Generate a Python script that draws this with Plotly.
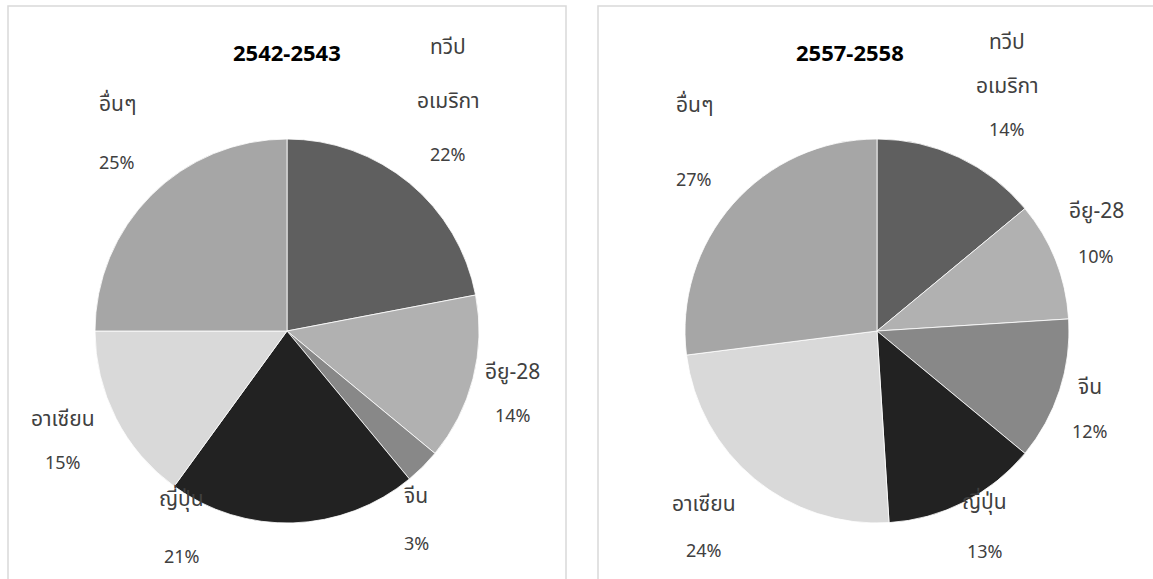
import math
import plotly.graph_objects as go

# Export shares by destination, two periods
regions = ["ทวีป<br>อเมริกา", "อียู-28", "จีน", "ญี่ปุ่น", "อาเซียน", "อื่นๆ"]
share_2542 = [22, 14, 3, 21, 15, 25]
share_2557 = [14, 10, 12, 13, 24, 27]
titles = ["2542-2543", "2557-2558"]

colors = ["#5f5f5f", "#b1b1b1", "#888888", "#222222", "#d9d9d9", "#a6a6a6"]

W, H = 1153, 579
R = 192                      # pie radius in px
centers = [(287, 331), (877, 331)]
panels = [(8, 566), (598, 1156)]

# label placement: angle nudge (deg), distance (in radii) and line gap (px) per slice
label_nudge = [
    [-4.7, 1.0, 10.5, 30.0, 1.0, 4.5],
    [2.7, -2.4, 2.0, -2.0, 2.0, 4.6],
]
label_dist = [
    [1.47, 1.22, 1.19, 1.16, 1.30, 1.36],
    [1.45, 1.25, 1.18, 1.16, 1.36, 1.37],
]
line_gaps = [
    [54, 44, 48, 58, 44, 59],
    [44, 46, 45, 50, 47, 75],
]
name_font = dict(family="Noto Sans, Noto Sans Thai, sans-serif", size=21, color="#404040")
pct_font = dict(family="Noto Sans, sans-serif", size=18, color="#404040")

fig = go.Figure()
annotations = []
shapes = []

for k, values in enumerate([share_2542, share_2557]):
    cx, cy = centers[k]
    fig.add_trace(go.Pie(
        labels=[r.replace("<br>", " ") for r in regions],
        values=values,
        sort=False,
        direction="clockwise",
        rotation=0,
        textinfo="none",
        hoverinfo="label+percent",
        marker=dict(colors=colors, line=dict(color="white", width=0.8)),
        domain=dict(x=[(cx - R) / W, (cx + R) / W],
                    y=[1 - (cy + R) / H, 1 - (cy - R) / H]),
        showlegend=False,
    ))
    # panel frame
    x0, x1 = panels[k]
    shapes.append(dict(type="rect", xref="paper", yref="paper",
                       x0=x0 / W, x1=x1 / W, y0=-0.1, y1=1 - 6 / H,
                       line=dict(color="#d9d9d9", width=1.5)))
    # title
    tx = cx if k == 0 else cx - 27
    annotations.append(dict(text=f"<b>{titles[k]}</b>", x=tx / W, y=1 - 52 / H,
                            xref="paper", yref="paper", showarrow=False,
                            xanchor="center", yanchor="middle",
                            font=dict(family="Noto Sans, sans-serif", size=22, color="#000000")))
    # outside labels, placed around each slice's mid-angle
    total = sum(values)
    cum = 0
    for i, v in enumerate(values):
        mid = (cum + v / 2) / total * 360
        cum += v
        theta = math.radians(mid + label_nudge[k][i])
        d = label_dist[k][i] * R
        lx = cx + d * math.sin(theta)
        ly = cy - d * math.cos(theta)
        names = regions[i].split("<br>")
        lines = [(t, name_font) for t in names] + [(f"{round(v / total * 100)}%", pct_font)]
        n = len(lines)
        for j, (t, f) in enumerate(lines):
            yy = ly + (j - (n - 1) / 2) * line_gaps[k][i]
            annotations.append(dict(text=t, x=lx / W, y=1 - yy / H,
                                    xref="paper", yref="paper", showarrow=False,
                                    xanchor="center", yanchor="middle",
                                    font=f))

fig.update_layout(
    width=W, height=H,
    margin=dict(l=0, r=0, t=0, b=0),
    paper_bgcolor="white",
    plot_bgcolor="white",
    annotations=annotations,
    shapes=shapes,
)

fig.write_html("out.html")
